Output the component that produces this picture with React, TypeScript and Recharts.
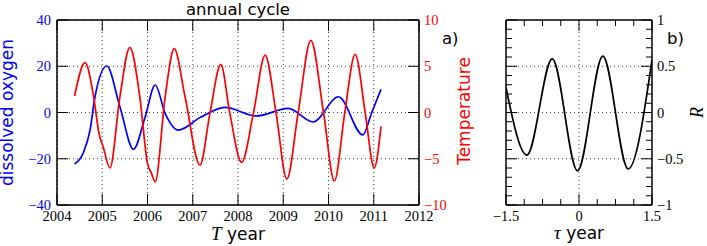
import React from 'react';
import { LineChart, Line, XAxis, YAxis, CartesianGrid } from 'recharts';

// panel a: dissolved oxygen (left axis)
const doYears = [2004.39, 2004.58, 2004.73, 2004.84, 2005.1, 2005.39, 2005.69, 2005.95, 2006.17, 2006.39, 2006.68, 2007.17, 2007.71, 2008.41, 2009.11, 2009.66, 2010.22, 2010.76, 2010.95, 2011.16];
const doValues = [-22.3, -17.5, -7.6, 6.8, 20.1, 2.5, -15.9, -1.8, 11.9, -0.4, -7.6, -2.1, 2.2, -1.5, 1.8, -4.1, 6.8, -9.7, -0.3, 10.0];

// panel a: temperature (right axis)
const tempYears = [2004.39, 2004.62, 2004.81, 2004.93, 2005.02, 2005.17, 2005.39, 2005.61, 2005.83, 2006.0, 2006.09, 2006.17, 2006.39, 2006.59, 2006.83, 2007.16, 2007.38, 2007.62, 2007.82, 2008.08, 2008.34, 2008.6, 2008.84, 2009.08, 2009.33, 2009.61, 2009.89, 2010.13, 2010.36, 2010.59, 2010.81, 2011.01, 2011.16];
const tempValues = [1.8, 5.4, 1.7, -2.3, -3.7, -6.0, 1.7, 7.05, 1.7, -5.5, -6.6, -7.5, 1.7, 6.9, 1.7, -5.7, -0.1, 5.2, -0.1, -5.4, -0.1, 6.2, 0.0, -7.2, 0.0, 7.8, 0.0, -7.4, 0.0, 6.3, 0.0, -6.0, -1.5];

// panel b: correlation R against lag tau
const lagTaus = [-1.5, -1.07, -0.55, -0.03, 0.49, 1.01, 1.5];
const lagR = [0.27, -0.46, 0.58, -0.63, 0.61, -0.61, 0.57];

const yearTicks = [2004, 2005, 2006, 2007, 2008, 2009, 2010, 2011, 2012];
const doTicks = [-40, -20, 0, 20, 40];
const tempTicks = [-10, -5, 0, 5, 10];
const tauTicks = [-1.5, -1.125, -0.75, -0.375, 0, 0.375, 0.75, 1.125, 1.5];
const tauMajor = [-1.5, 0, 1.5];
const rTicks = [-1, -0.9, -0.8, -0.7, -0.6, -0.5, -0.4, -0.3, -0.2, -0.1, 0, 0.1, 0.2, 0.3, 0.4, 0.5, 0.6, 0.7, 0.8, 0.9, 1];
const rMajor = [-1, -0.5, 0, 0.5, 1];
const rGrid = [-0.5, 0, 0.5];
const tauGrid = [0];

const doData = doYears.map((year, i) => ({ year, value: doValues[i] }));
const tempData = tempYears.map((year, i) => ({ year, value: tempValues[i] }));
const lagData = lagTaus.map((tau, i) => ({ tau, r: lagR[i] }));

const SERIF = '"Liberation Serif", "DejaVu Serif", serif';
const SANS = '"DejaVu Sans", sans-serif';
const BLUE = '#0000ff';
const RED = '#ff0000';

const fmt = (v: number) => String(v).replace('-', '\u2212');
const has = (list: number[], v: number) => list.some((m) => Math.abs(m - v) < 1e-6);

const serifStyle = { fontFamily: SERIF, fontSize: 14.5 };
const sansStyle = (size: number) => ({ fontFamily: SANS, fontSize: size });
const mathStyle = (size: number) => ({ fontFamily: SERIF, fontStyle: 'italic', fontSize: size });

type Side = 'top' | 'bottom' | 'left' | 'right';

// draws inward tick marks plus the label (if any) for one axis side
function axisTick(side: Side, majors: number[], labels: number[], color = '#000') {
  return (props: any) => {
    const { x, y, payload } = props;
    const v = payload.value as number;
    const len = has(majors, v) ? 11 : 6;
    const show = has(labels, v);
    if (side === 'bottom') {
      return (
        <g>
          <line x1={x} y1={y} x2={x} y2={y - len} stroke="#000" />
          {show && <text x={x} y={y + 16} textAnchor="middle" fill={color} style={serifStyle}>{fmt(v)}</text>}
        </g>
      );
    }
    if (side === 'top') {
      return <g><line x1={x} y1={y} x2={x} y2={y + len} stroke="#000" /></g>;
    }
    if (side === 'left') {
      return (
        <g>
          <line x1={x} y1={y} x2={x + len} y2={y} stroke="#000" />
          {show && <text x={x - 6} y={y + 5} textAnchor="end" fill={color} style={serifStyle}>{fmt(v)}</text>}
        </g>
      );
    }
    return (
      <g>
        <line x1={x} y1={y} x2={x - len} y2={y} stroke="#000" />
        {show && <text x={x + 5} y={y + 5} textAnchor="start" fill={color} style={serifStyle}>{fmt(v)}</text>}
      </g>
    );
  };
}

const frame = { stroke: '#000', strokeWidth: 1.5 };

export default function App() {
  return (
    <div style={{ position: 'absolute', left: 0, top: 0, width: 707, height: 246, background: '#fff' }}>
      <div style={{ position: 'absolute', left: 0, top: 0 }}>
        <LineChart width={480} height={246} margin={{ top: 19, right: 11, bottom: 11, left: 6 }}>
          <CartesianGrid stroke="#444" strokeDasharray="1 3" verticalValues={yearTicks} horizontalValues={doTicks} />
          <XAxis dataKey="year" type="number" domain={[2004, 2012]} ticks={yearTicks} interval={0} allowDataOverflow
            height={30} tickSize={0} tickMargin={0} axisLine={frame} tickLine={false} tick={axisTick('bottom', yearTicks, yearTicks)} />
          <XAxis xAxisId="top" orientation="top" dataKey="year" type="number" domain={[2004, 2012]} ticks={yearTicks} interval={0} allowDataOverflow
            height={1} tickSize={0} tickMargin={0} axisLine={frame} tickLine={false} tick={axisTick('top', yearTicks, [])} />
          <YAxis type="number" domain={[-40, 40]} ticks={doTicks} interval={0} allowDataOverflow width={51}
            tickSize={0} tickMargin={0} axisLine={frame} tickLine={false} tick={axisTick('left', doTicks, doTicks, BLUE)} />
          <YAxis yAxisId="t" orientation="right" type="number" domain={[-10, 10]} ticks={tempTicks} interval={0} allowDataOverflow width={50}
            tickSize={0} tickMargin={0} axisLine={frame} tickLine={false} tick={axisTick('right', tempTicks, tempTicks, RED)} />
          <Line data={doData} dataKey="value" type="monotone" stroke={BLUE} strokeWidth={1.7} dot={false} isAnimationActive={false} />
          <Line data={tempData} yAxisId="t" dataKey="value" type="monotone" stroke={RED} strokeWidth={1.7} dot={false} isAnimationActive={false} />
        </LineChart>
      </div>
      <div style={{ position: 'absolute', left: 460, top: 0 }}>
        <LineChart width={247} height={246} margin={{ top: 19, right: 5, bottom: 11, left: 45 }}>
          <CartesianGrid stroke="#444" strokeDasharray="1 3" verticalValues={tauGrid} horizontalValues={rGrid} />
          <XAxis dataKey="tau" type="number" domain={[-1.5, 1.5]} ticks={tauTicks} interval={0} allowDataOverflow
            height={30} tickSize={0} tickMargin={0} axisLine={frame} tickLine={false} tick={axisTick('bottom', tauMajor, tauMajor)} />
          <XAxis xAxisId="top" orientation="top" dataKey="tau" type="number" domain={[-1.5, 1.5]} ticks={tauTicks} interval={0} allowDataOverflow
            height={1} tickSize={0} tickMargin={0} axisLine={frame} tickLine={false} tick={axisTick('top', tauMajor, [])} />
          <YAxis type="number" domain={[-1, 1]} ticks={rTicks} interval={0} allowDataOverflow width={1}
            tickSize={0} tickMargin={0} axisLine={frame} tickLine={false} tick={axisTick('left', rMajor, [])} />
          <YAxis yAxisId="r" orientation="right" type="number" domain={[-1, 1]} ticks={rTicks} interval={0} allowDataOverflow width={50}
            tickSize={0} tickMargin={0} axisLine={frame} tickLine={false} tick={axisTick('right', rMajor, rMajor)} />
          <Line data={lagData} dataKey="r" type="monotone" stroke="#000" strokeWidth={1.7} dot={false} isAnimationActive={false} />
        </LineChart>
      </div>
      <svg width={707} height={246} style={{ position: 'absolute', left: 0, top: 0, pointerEvents: 'none' }}>
        <text x={238} y={15} textAnchor="middle" style={sansStyle(16.5)}>annual cycle</text>
        <text x={442} y={44} style={sansStyle(16.5)}>a)</text>
        <text x={667} y={44} style={sansStyle(16.5)}>b)</text>
        <text transform="translate(13,112.5) rotate(-90)" textAnchor="middle" fill={BLUE} style={sansStyle(17)}>dissolved oxygen</text>
        <text transform="translate(470,111) rotate(-90)" textAnchor="middle" fill={RED} style={sansStyle(17)}>Temperature</text>
        <text transform="translate(703,112.5) rotate(-90)" textAnchor="middle" style={mathStyle(18)}>R</text>
        <text x={238} y={240} textAnchor="middle" style={sansStyle(17)}>
          <tspan style={mathStyle(19)}>T</tspan> year
        </text>
        <text x={579} y={239} textAnchor="middle" style={sansStyle(17)}>
          <tspan style={mathStyle(19)}>τ</tspan> year
        </text>
      </svg>
    </div>
  );
}
